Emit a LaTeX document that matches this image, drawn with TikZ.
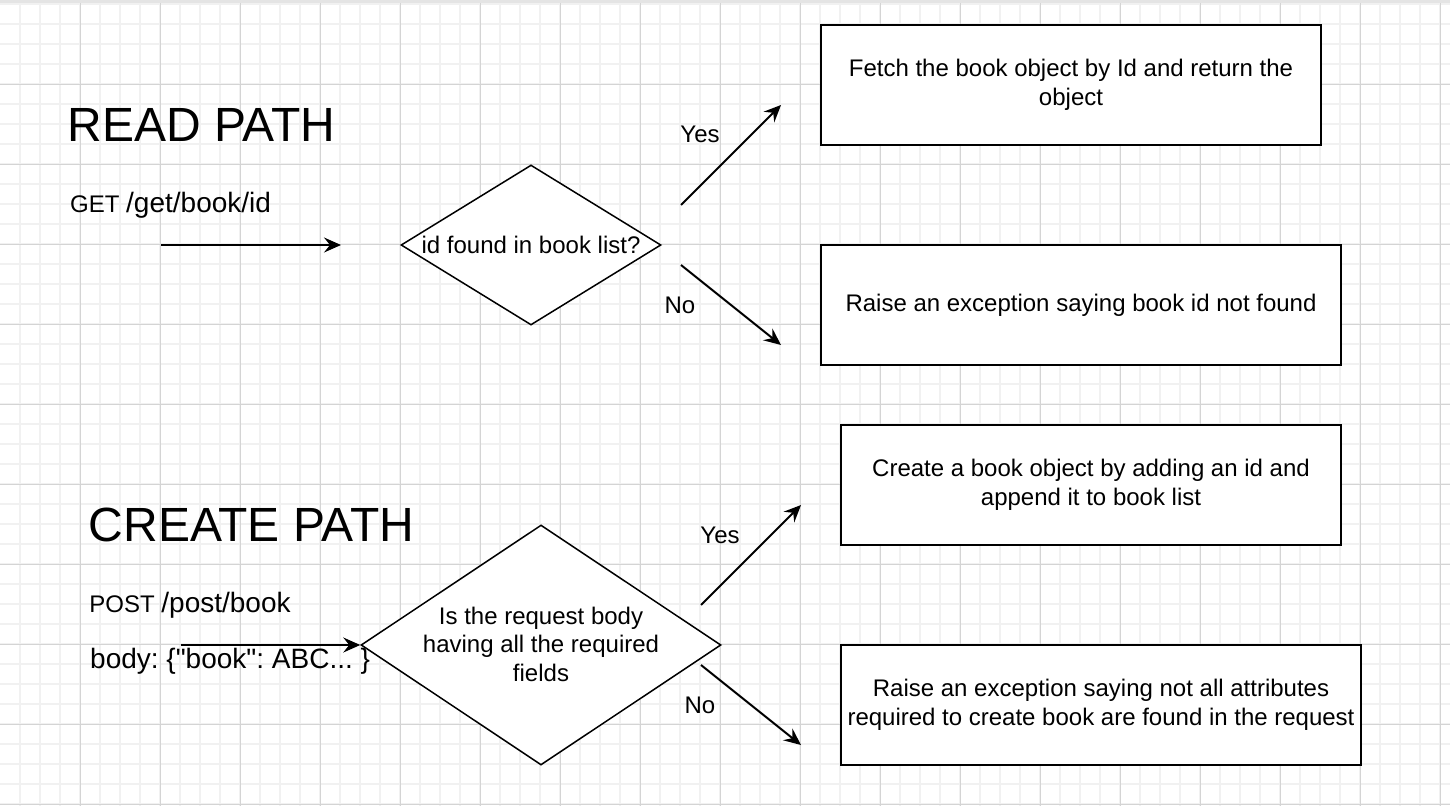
\documentclass[tikz,border=0pt]{standalone}
\usepackage{fontspec}
\setmainfont{Liberation Sans}
\newfontfamily\plainsans{Liberation Sans}
\usetikzlibrary{arrows.meta,shapes.geometric}
\definecolor{minorgrid}{HTML}{F1F1F1}
\definecolor{majorgrid}{HTML}{D4D4D4}
\definecolor{topband}{HTML}{E4E4E4}
\frenchspacing
\begin{document}
\begin{tikzpicture}[x=1pt,y=-1pt,
  box/.style={draw=black, fill=white, line width=2pt, inner sep=0pt, align=center, font=\fontsize{24}{28.5}\selectfont},
  diam/.style={draw=black, fill=white, line width=1.5pt, shape=diamond, inner sep=0pt},
  lbl/.style={inner sep=0pt, align=center, font=\fontsize{24}{28.5}\selectfont},
  arr/.style={line width=2pt, -{Stealth[length=17pt,width=15pt,inset=6pt]}},
  title/.style={inner sep=0pt, anchor=base west, font=\fontsize{48}{57}\selectfont},
  route/.style={inner sep=0pt, anchor=base west}]
\useasboundingbox (0,0) rectangle (1450,806);
\fill[white] (0,0) rectangle (1450,806);
% grid
\foreach \x in {20,40,...,1440} \draw[minorgrid, line width=1.5pt] (\x,0) -- (\x,806);
\foreach \y in {4,24,...,804} \draw[minorgrid, line width=1.5pt] (0,\y) -- (1450,\y);
\foreach \x in {80,160,...,1440} \draw[majorgrid, line width=1pt] (\x,0) -- (\x,806);
\foreach \y in {84,164,...,804} \draw[majorgrid, line width=1pt] (0,\y) -- (1450,\y);
\fill[topband] (0,0) rectangle (1450,3);

% READ PATH
\node[title] (readtitle) at (67.2,141) {READ PATH};
\node[route] (getroute) at (70,212) {\fontsize{24}{28}\selectfont GET \fontsize{28}{33}\selectfont/get/book/id};
\node[diam, minimum width=260pt, minimum height=160pt] (d1) at (531,245) {};
\node[lbl] (d1t) at (531,245) {id found in book list?};
\node[box, minimum width=500pt, minimum height=120pt] (b1) at (1071,85) {Fetch the book object by Id and return the\\object};
\node[box, minimum width=520pt, minimum height=120pt] (b2) at (1081,305) {Raise an exception saying book id not found};
\coordinate (r0) at (161,245);
\coordinate (r1) at (341,245);
\draw[arr] (r0) -- (r1);
\coordinate (y1s) at (681,205);
\coordinate (y1e) at (781,105);
\draw[arr] (y1s) -- (y1e);
\coordinate (n1s) at (681,265);
\coordinate (n1e) at (781,345);
\draw[arr] (n1s) -- (n1e);
\node[lbl] (yes1) at (700,134) {Yes};
\node[lbl] (no1) at (680,305) {No};

% CREATE PATH
\node[title] (createtitle) at (88.6,541) {CREATE PATH};
\node[route] (postroute) at (89.2,612) {\fontsize{24}{28}\selectfont POST \fontsize{28}{33}\selectfont/post/book};
\node[route] (bodyline) at (90,668) {\plainsans\fontsize{28}{33}\selectfont body: \{"book": ABC... \}};
\node[diam, minimum width=360pt, minimum height=240pt] (d2) at (541,645) {};
\node[lbl] (d2t) at (541,644) {Is the request body\\having all the required\\fields};
\node[box, minimum width=500pt, minimum height=120pt] (b3) at (1091,485) {Create a book object by adding an id and\\append it to book list};
\node[box, minimum width=520pt, minimum height=120pt] (b4) at (1101,705) {Raise an exception saying not all attributes\\required to create book are found in the request};
\coordinate (c0) at (181,645);
\draw[arr] (c0) -- (d2.west);
\coordinate (y2s) at (701,605);
\coordinate (y2e) at (801,505);
\draw[arr] (y2s) -- (y2e);
\coordinate (n2s) at (701,665);
\coordinate (n2e) at (801,745);
\draw[arr] (n2s) -- (n2e);
\node[lbl] (yes2) at (720,535) {Yes};
\node[lbl] (no2) at (700,705) {No};
\end{tikzpicture}
\end{document}
